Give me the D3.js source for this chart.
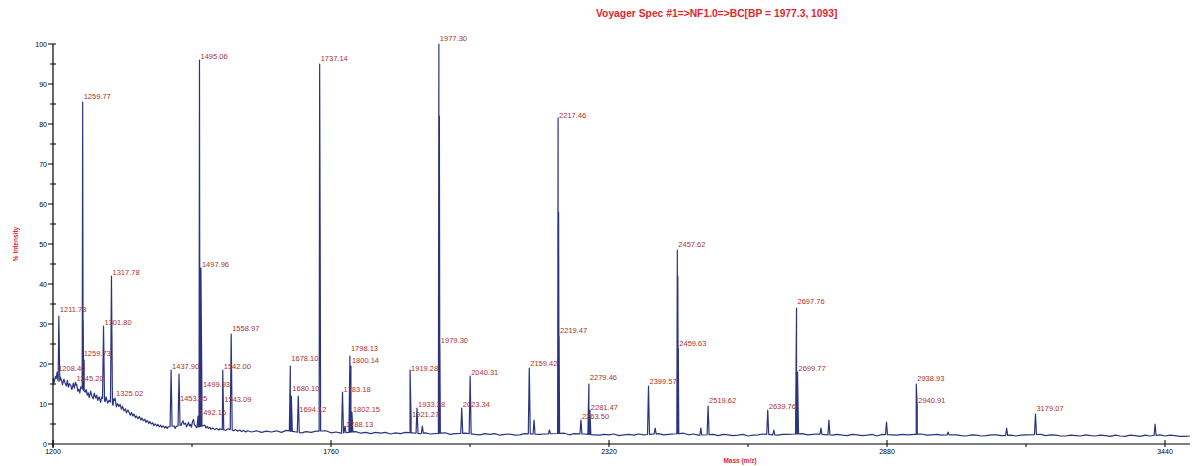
<!DOCTYPE html>
<html>
<head>
<meta charset="utf-8">
<script src="https://cdn.jsdelivr.net/npm/d3@7"></script>
<style>
  body { margin: 0; background: #fff; }
  svg { display: block; font-family: "Liberation Sans", Arial, sans-serif; }
</style>
</head>
<body>
<svg id="chart" width="1192" height="466"></svg>
<script>
// ---- data ----
let title = "Voyager Spec #1=>NF1.0=>BC[BP = 1977.3, 1093]";
let xLabel = "Mass (m/z)";
let yLabel = "% Intensity";
let xTicks = [1200, 1760, 2320, 2880, 3440];
let xMinorTicks = [1480, 2040, 2600, 3160];
let yTicks = [0, 10, 20, 30, 40, 50, 60, 70, 80, 90, 100];
let yMinorTicks = [5, 15, 25, 35, 45, 55, 65, 75, 85, 95];

// noisy baseline [mass, %intensity]
let baseline = [
  [1200, 16.5], [1202, 15.3], [1205, 16.9], [1207, 16.1], [1208, 17.6], [1210, 15.8],
  [1213, 15.2], [1215, 16.7], [1218, 15.6], [1219, 14.8], [1222, 16.2], [1224, 15.4],
  [1227, 14.5], [1229, 15.9], [1231, 14.2], [1233, 15.1], [1236, 14.6], [1238, 13.6],
  [1241, 15.2], [1243, 13.9], [1248, 14.8], [1250, 13.2], [1252, 13.7], [1254, 12.8],
  [1256, 14.3], [1265, 12.9], [1267, 13.6], [1269, 12.2], [1271, 12.8], [1273, 11.6],
  [1276, 13.2], [1278, 12.0], [1281, 11.3], [1283, 12.7], [1286, 11.5], [1288, 12.2],
  [1290, 10.9], [1293, 11.8], [1296, 10.4], [1298, 11.7], [1305, 10.6], [1307, 11.8],
  [1310, 10.2], [1313, 10.9], [1321, 9.7], [1322, 11.2], [1328, 9.3], [1330, 10.1],
  [1333, 9.4], [1335, 9.9], [1338, 8.7], [1340, 9.4], [1343, 8.3], [1346, 8.8],
  [1348, 7.8], [1351, 8.5], [1353, 8.0], [1356, 7.2], [1358, 7.9], [1361, 7.0],
  [1363, 7.5], [1366, 6.6], [1368, 7.0], [1371, 6.3], [1374, 6.9], [1377, 6.0],
  [1379, 6.5], [1382, 5.8], [1385, 6.2], [1387, 5.4], [1390, 5.9], [1393, 5.1],
  [1395, 5.6], [1398, 5.0], [1401, 5.3], [1403, 4.6], [1406, 5.0], [1409, 4.5],
  [1411, 4.9], [1414, 4.3], [1417, 4.7], [1419, 4.2], [1422, 4.5], [1425, 4.0],
  [1427, 4.4], [1430, 3.9], [1432, 4.3], [1444, 4.5], [1446, 3.9], [1448, 4.4],
  [1458, 4.7], [1460, 5.3], [1462, 5.8], [1464, 4.9], [1467, 5.2], [1469, 4.3],
  [1471, 4.8], [1473, 5.4], [1475, 4.5], [1477, 4.9], [1479, 4.2], [1481, 5.6],
  [1483, 6.1], [1485, 4.8], [1487, 4.5], [1489, 4.1], [1506, 4.7], [1508, 4.0],
  [1511, 4.4], [1513, 3.9], [1516, 4.2], [1518, 3.7], [1522, 4.0], [1526, 3.6],
  [1530, 3.9], [1534, 3.5], [1536, 3.8], [1548, 3.4], [1552, 3.8], [1564, 3.3],
  [1568, 3.6], [1572, 3.2], [1576, 3.5], [1580, 3.1], [1584, 3.4], [1588, 3.0],
  [1592, 3.3], [1600, 3.0], [1610, 3.3], [1620, 2.9], [1630, 3.2], [1640, 3.0],
  [1650, 3.3], [1660, 2.9], [1670, 3.4], [1690, 3.0], [1700, 2.8], [1710, 3.1],
  [1720, 2.9], [1730, 3.2], [1750, 3.3], [1760, 2.8], [1770, 3.0], [1780, 2.7],
  [1810, 3.1], [1820, 2.7], [1830, 2.9], [1840, 2.6], [1850, 2.9], [1860, 2.7],
  [1870, 2.9], [1880, 2.5], [1890, 2.8], [1900, 2.6], [1910, 2.9], [1940, 2.6],
  [1950, 2.8], [1960, 2.5], [1990, 2.8], [2000, 2.4], [2010, 2.6], [2030, 2.7],
  [2050, 2.4], [2060, 2.3], [2070, 2.6], [2080, 2.4], [2090, 2.6], [2100, 2.2],
  [2110, 2.4], [2120, 2.5], [2130, 2.2], [2140, 2.3], [2150, 2.6], [2180, 2.4],
  [2190, 2.5], [2230, 2.7], [2240, 2.3], [2250, 2.6], [2270, 2.5], [2290, 2.3],
  [2300, 2.2], [2310, 2.4], [2320, 2.3], [2330, 2.5], [2340, 2.1], [2350, 2.3],
  [2360, 2.4], [2370, 2.2], [2380, 2.5], [2390, 2.3], [2420, 2.6], [2430, 2.3],
  [2440, 2.4], [2470, 2.7], [2480, 2.3], [2490, 2.5], [2500, 2.2], [2530, 2.4],
  [2540, 2.1], [2550, 2.4], [2560, 2.3], [2570, 2.1], [2580, 2.2], [2590, 2.4],
  [2600, 2.0], [2610, 2.2], [2620, 2.3], [2630, 2.5], [2660, 2.2], [2670, 2.4],
  [2680, 2.4], [2710, 2.6], [2720, 2.3], [2730, 2.4], [2740, 2.5], [2770, 2.2],
  [2780, 2.4], [2790, 2.2], [2800, 2.1], [2810, 2.4], [2820, 2.3], [2830, 2.1],
  [2840, 2.2], [2850, 2.4], [2860, 2.0], [2870, 2.4], [2890, 2.3], [2900, 2.2],
  [2910, 2.4], [2920, 2.3], [2950, 2.5], [2960, 2.2], [2970, 2.3], [2980, 2.4],
  [2990, 2.2], [3010, 2.3], [3020, 2.3], [3030, 2.1], [3040, 2.0], [3050, 2.3],
  [3060, 2.2], [3070, 2.0], [3080, 2.1], [3090, 2.3], [3100, 2.3], [3110, 2.1],
  [3130, 2.2], [3140, 2.0], [3150, 2.2], [3160, 2.3], [3190, 2.4], [3200, 2.1],
  [3210, 2.3], [3220, 2.2], [3230, 2.0], [3240, 2.0], [3250, 2.2], [3260, 2.1],
  [3270, 2.0], [3280, 2.3], [3290, 2.1], [3300, 2.0], [3310, 2.2], [3320, 2.1],
  [3330, 1.9], [3340, 2.2], [3350, 2.0], [3360, 1.9], [3370, 2.2], [3380, 2.1],
  [3390, 1.9], [3400, 2.2], [3410, 2.0], [3430, 2.3], [3440, 2.0], [3450, 2.2],
  [3460, 2.1], [3470, 1.9], [3480, 1.9], [3490, 2.0]
];

// peaks [mass, %intensity]
let peaks = [
  [1208.40, 18], [1211.73, 32], [1245.20, 15.5], [1259.77, 85.5], [1260.80, 31],
  [1262.70, 21], [1301.80, 29.5], [1317.78, 42], [1325.02, 11.5], [1437.90, 18.5],
  [1453.85, 17.5], [1492.16, 7], [1495.06, 96], [1497.96, 44], [1499.93, 13.5],
  [1542.00, 18.5], [1543.09, 10], [1558.97, 27.5], [1678.10, 19.5], [1680.10, 12],
  [1694.12, 12], [1737.14, 95], [1738.14, 54], [1783.18, 13], [1788.13, 4.5],
  [1798.13, 22], [1800.14, 19.5], [1802.15, 8], [1919.28, 18.5], [1921.27, 6.5],
  [1933.28, 9], [1944.00, 4.5], [1977.30, 100], [1978.30, 82], [1979.30, 25],
  [2023.34, 9], [2040.31, 17], [2159.42, 19], [2169.00, 6], [2200.00, 3.5],
  [2217.46, 81.5], [2218.47, 58], [2219.47, 27], [2263.50, 6], [2279.46, 15],
  [2281.47, 8.5], [2399.57, 14.5], [2413.00, 4], [2457.62, 48.5], [2458.60, 42],
  [2459.63, 24], [2505.00, 4], [2519.62, 9.5], [2639.76, 8.5], [2652.00, 3.5],
  [2697.76, 34], [2699.77, 18], [2747.00, 4], [2763.00, 6], [2879.00, 5.5],
  [2938.93, 15], [2940.91, 9.5], [3003.00, 3], [3121.00, 4], [3179.07, 7.5],
  [3420.00, 5]
];

// peak annotations [text, %intensity at the label]
let labels = [
  ["1211.73", 32.8], ["1208.40", 18.0], ["1245.20", 15.5], ["1259.77", 86],
  ["1259.73", 21.8], ["1301.80", 29.6], ["1317.78", 42.1], ["1325.02", 11.8],
  ["1437.90", 18.5], ["1453.85", 10.5], ["1492.16", 7.0], ["1495.06", 96],
  ["1497.96", 43.9], ["1499.93", 14.0], ["1542.00", 18.5], ["1543.09", 10.3],
  ["1558.97", 28], ["1678.10", 20.5], ["1680.10", 13], ["1694.12", 7.8],
  ["1737.14", 95.5], ["1783.18", 12.8], ["1788.13", 4.0], ["1798.13", 23],
  ["1800.14", 20], ["1802.15", 7.8], ["1919.28", 18], ["1921.27", 6.5],
  ["1933.28", 9], ["1977.30", 100.5], ["1979.30", 25], ["2023.34", 9],
  ["2040.31", 17], ["2159.42", 19.3], ["2217.46", 81.2], ["2219.47", 27.6],
  ["2263.50", 6], ["2279.46", 15.8], ["2281.47", 8.3], ["2399.57", 14.8],
  ["2457.62", 48.9], ["2459.63", 24.3], ["2519.62", 10], ["2639.76", 8.5],
  ["2697.76", 34.8], ["2699.77", 18], ["2938.93", 15.5], ["2940.91", 10],
  ["3179.07", 8]
];

// ---- drawing ----
let PEAK_HALF = 2;
let svg = d3.select("#chart");

let x = d3.scaleLinear().domain([1200, 3440]).range([53, 1165]);
let y = d3.scaleLinear().domain([0, 100]).range([444, 44]);
let xEnd = 1190;

function baseAt(m) {
  let i = d3.bisector(function(d) { return d[0]; }).right(baseline, m) - 1;
  i = Math.max(0, Math.min(baseline.length - 2, i));
  let a = baseline[i], b = baseline[i + 1];
  let t = (m - a[0]) / (b[0] - a[0]);
  return a[1] + (b[1] - a[1]) * t;
}

function buildTrace() {
  let pts = baseline.filter(function(b) {
    return !peaks.some(function(p) {
      return Math.abs(p[0] - b[0]) < PEAK_HALF + 0.5;
    });
  }).map(function(b) { return [b[0], b[1]]; });
  peaks.forEach(function(p) {
    pts.push([p[0] - PEAK_HALF, baseAt(p[0] - PEAK_HALF)]);
    pts.push([p[0], p[1]]);
    pts.push([p[0] + PEAK_HALF, baseAt(p[0] + PEAK_HALF)]);
  });
  pts.sort(function(a, b) { return a[0] - b[0]; });
  return pts;
}

// title
svg.append("text")
  .attr("x", 596)
  .attr("y", 17)
  .attr("fill", "#e3262b")
  .attr("font-size", "10.3px")
  .attr("font-weight", "bold")
  .text(title);

// trace
let line = d3.line()
  .x(function(d) { return x(d[0]); })
  .y(function(d) { return y(d[1]); });

svg.append("path")
  .datum(buildTrace())
  .attr("d", line)
  .attr("fill", "none")
  .attr("stroke", "#2b3480")
  .attr("stroke-width", 1.2)
  .attr("stroke-linejoin", "round");

// peak labels
svg.append("g")
  .selectAll("text")
  .data(labels)
  .enter()
  .append("text")
  .attr("x", function(d) { return x(+d[0]) + 1; })
  .attr("y", function(d) { return y(d[1]) - 1; })
  .attr("fill", "#b0302c")
  .attr("font-size", "7.5px")
  .text(function(d) { return d[0]; });

// y axis
let yAxis = svg.append("g");
yAxis.append("line")
  .attr("x1", x(1200)).attr("x2", x(1200))
  .attr("y1", y(0) + 4).attr("y2", y(100))
  .attr("stroke", "#000").attr("stroke-width", 1.2);
yAxis.append("line")
  .attr("x1", x(1200)).attr("x2", x(1200) + 3)
  .attr("y1", y(100)).attr("y2", y(100))
  .attr("stroke", "#000");
yAxis.selectAll(".major")
  .data(yTicks)
  .enter()
  .append("line")
  .attr("x1", x(1200) - 5).attr("x2", x(1200))
  .attr("y1", function(d) { return y(d); })
  .attr("y2", function(d) { return y(d); })
  .attr("stroke", "#000");
yAxis.selectAll(".minor")
  .data(yMinorTicks)
  .enter()
  .append("line")
  .attr("x1", x(1200) - 3).attr("x2", x(1200) + 3)
  .attr("y1", function(d) { return y(d); })
  .attr("y2", function(d) { return y(d); })
  .attr("stroke", "#000");
yAxis.selectAll("text")
  .data(yTicks)
  .enter()
  .append("text")
  .attr("x", x(1200) - 6)
  .attr("y", function(d) { return y(d) + 2.5; })
  .attr("text-anchor", "end")
  .attr("font-size", "7px")
  .text(function(d) { return d; });

// x axis
let xAxis = svg.append("g");
xAxis.append("line")
  .attr("x1", x(1200)).attr("x2", xEnd)
  .attr("y1", y(0)).attr("y2", y(0))
  .attr("stroke", "#000").attr("stroke-width", 1.2);
xAxis.selectAll(".major")
  .data(xTicks)
  .enter()
  .append("line")
  .attr("x1", function(d) { return x(d); })
  .attr("x2", function(d) { return x(d); })
  .attr("y1", y(0) - 4).attr("y2", y(0) + 3)
  .attr("stroke", "#000");
xAxis.selectAll(".minor")
  .data(xMinorTicks)
  .enter()
  .append("line")
  .attr("x1", function(d) { return x(d); })
  .attr("x2", function(d) { return x(d); })
  .attr("y1", y(0)).attr("y2", y(0) + 3)
  .attr("stroke", "#000");
xAxis.selectAll("text")
  .data(xTicks)
  .enter()
  .append("text")
  .attr("x", function(d) { return x(d); })
  .attr("y", y(0) + 10)
  .attr("text-anchor", "middle")
  .attr("font-size", "7px")
  .text(function(d) { return d; });

// axis titles
svg.append("text")
  .attr("x", 740)
  .attr("y", 463)
  .attr("text-anchor", "middle")
  .attr("fill", "#e3262b")
  .attr("font-size", "6.5px")
  .attr("font-weight", "bold")
  .text(xLabel);

svg.append("text")
  .attr("transform", "translate(18," + y(50) + ") rotate(-90)")
  .attr("text-anchor", "middle")
  .attr("fill", "#e3262b")
  .attr("font-size", "6.5px")
  .attr("font-weight", "bold")
  .text(yLabel);
</script>
</body>
</html>
